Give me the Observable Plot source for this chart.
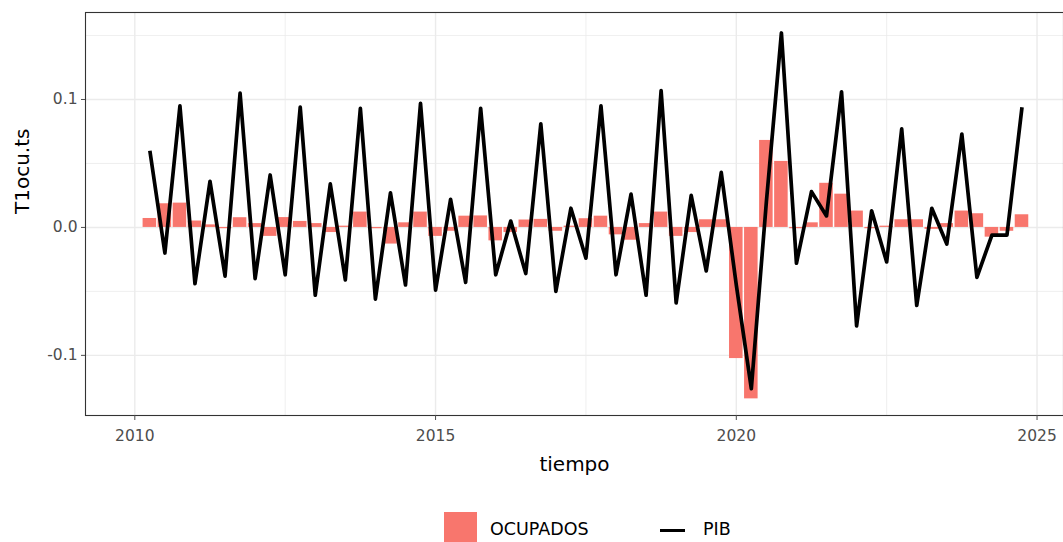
<!DOCTYPE html>
<html>
<head>
<meta charset="utf-8">
<script src="https://cdn.jsdelivr.net/npm/d3@7"></script>
<script src="https://cdn.jsdelivr.net/npm/@observablehq/plot@0.6"></script>
<style>
  html, body { margin: 0; padding: 0; background: #ffffff; }
  #wrap { position: relative; width: 1063px; height: 542px; overflow: hidden; font-family: "DejaVu Sans", sans-serif; }
  #chart { position: absolute; left: 0; top: 0; }
  .lg { position: absolute; }
  .lgtext { position: absolute; font-size: 17.5px; color: #000; line-height: 1; }
</style>
</head>
<body>
<div id="wrap">
  <div id="chart"></div>
  <div class="lg" style="left:444px; top:512px; width:33px; height:31px; background:#F8766D;"></div>
  <div class="lgtext" style="left:490px; top:521px;">OCUPADOS</div>
  <div class="lg" style="left:660px; top:528.5px; width:25px; height:3.6px; background:#000;"></div>
  <div class="lgtext" style="left:703px; top:521px;">PIB</div>
</div>
<script>
// Quarterly series: ts(start = c(2010, 2), frequency = 4)
const startYear = 2010;
const startQuarter = 2;
const frequency = 4;

// PIB (line)
const pib = [
  0.060, -0.020, 0.095, -0.044, 0.036, -0.038, 0.105, -0.040, 0.041, -0.037,
  0.094, -0.053, 0.034, -0.041, 0.093, -0.056, 0.027, -0.045, 0.097, -0.049,
  0.022, -0.043, 0.093, -0.037, 0.005, -0.036, 0.081, -0.050, 0.015, -0.024,
  0.095, -0.037, 0.026, -0.053, 0.107, -0.059, 0.025, -0.034, 0.043, -0.045,
  -0.126, 0.020, 0.152, -0.028, 0.028, 0.009, 0.106, -0.077, 0.013, -0.027,
  0.077, -0.061, 0.015, -0.013, 0.073, -0.039, -0.006, -0.006, 0.094
];

// OCUPADOS (bars)
const ocupados = [
  0.007, 0.0185, 0.019, 0.005, 0.002, -0.001, 0.0076, 0.003, -0.007, 0.0077,
  0.0047, 0.003, -0.004, 0.001, 0.012, -0.001, -0.013, 0.0036, 0.012, -0.007,
  -0.003, 0.0088, 0.009, -0.0105, -0.004, 0.0058, 0.0063, -0.003, 0.001, 0.0068,
  0.0088, -0.0058, -0.010, 0.003, 0.012, -0.007, -0.004, 0.006, 0.006, -0.1025,
  -0.134, 0.068, 0.0516, -0.001, 0.0036, 0.0345, 0.026, 0.0128, -0.001, 0.001,
  0.006, 0.006, -0.0015, 0.003, 0.0128, 0.0107, -0.0076, -0.003, 0.0099
];

const xTicks = [2010, 2015, 2020, 2025];
const xMinor = [2012.5, 2017.5, 2022.5];
const yTicks = [-0.1, 0, 0.1];
const yMinor = [-0.05, 0.05, 0.15];

const data = pib.map((v, i) => ({
  t: startYear + (startQuarter - 1 + i) / frequency,
  pib: v,
  ocu: ocupados[i]
}));
const halfBar = 0.9 / frequency / 2;

const grid = "#EBEBEB";
const chart = Plot.plot({
  width: 1063,
  height: 495,
  marginLeft: 85,
  marginRight: 0,
  marginTop: 12,
  marginBottom: 80,
  style: { fontFamily: "DejaVu Sans, sans-serif", fontSize: "15.5px", background: "transparent", overflow: "visible" },
  x: { domain: [2009.18, 2025.44] },
  y: { domain: [-0.147, 0.168] },
  marks: [
    Plot.ruleY(yMinor, { stroke: grid, strokeWidth: 0.8 }),
    Plot.ruleX(xMinor, { stroke: grid, strokeWidth: 0.8 }),
    Plot.ruleY(yTicks, { stroke: grid, strokeWidth: 1.4 }),
    Plot.ruleX(xTicks, { stroke: grid, strokeWidth: 1.4 }),
    Plot.rect(data, {
      x1: d => d.t - halfBar,
      x2: d => d.t + halfBar,
      y1: 0,
      y2: "ocu",
      fill: "#F8766D"
    }),
    Plot.line(data, { x: "t", y: "pib", stroke: "#000", strokeWidth: 3.7, strokeLinejoin: "round", strokeLinecap: "butt" }),
    Plot.frame({ stroke: "#333333", strokeWidth: 1.1 }),
    Plot.axisX({ ticks: xTicks, tickFormat: d => String(d), tickSize: 5, tickPadding: 9, color: "#4D4D4D", label: null }),
    Plot.axisY({ ticks: yTicks, tickFormat: d => d.toFixed(1), tickSize: 4, tickPadding: 4, color: "#4D4D4D", label: null }),
    Plot.text(["tiempo"], { frameAnchor: "bottom", dy: 49, fontSize: 20, fill: "#000", lineAnchor: "middle" }),
    Plot.text(["T1ocu.ts"], { frameAnchor: "left", dx: -63, rotate: -90, fontSize: 20, fill: "#000", lineAnchor: "middle" })
  ]
});
document.getElementById("chart").appendChild(chart);
</script>
</body>
</html>
